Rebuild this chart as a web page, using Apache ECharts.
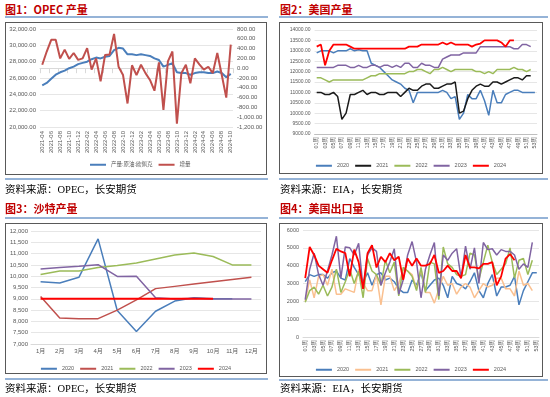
<!DOCTYPE html>
<html>
<head>
<meta charset="utf-8">
<script src="https://cdn.jsdelivr.net/npm/echarts/dist/echarts.min.js"></script>
<style>
body{margin:0;width:550px;height:397px;background:#fff;position:relative;overflow:hidden;font-family:"Noto Sans CJK SC",sans-serif;}
.title{position:absolute;font-size:11px;font-weight:bold;color:#c00000;line-height:12px;white-space:nowrap;}
.rule{position:absolute;height:2px;background:#95b3d7;}
.box{position:absolute;border:1px solid #595959;box-sizing:border-box;pointer-events:none;}
.chart{position:absolute;}
.src{position:absolute;font-size:10.5px;line-height:12px;color:#000;white-space:nowrap;font-family:"Liberation Serif","Noto Sans CJK SC",serif;}
</style>
</head>
<body>
<div class="title" style="left:5px;top:3px;">图1：OPEC 产量</div>
<div class="rule" style="left:5px;top:16px;width:263px;"></div>
<div class="chart" id="opec" style="left:5px;top:22px;width:262px;height:153px;"></div>
<div class="box" style="left:5px;top:22px;width:262px;height:153px;"></div>
<div class="rule" style="left:5px;top:178px;width:263px;"></div>
<div class="src" style="left:5px;top:184px;">资料来源：OPEC，长安期货</div>

<div class="title" style="left:280px;top:3px;">图2：美国产量</div>
<div class="rule" style="left:279px;top:16px;width:269px;"></div>
<div class="chart" id="usprod" style="left:279px;top:22px;width:264px;height:152px;"></div>
<div class="box" style="left:279px;top:22px;width:264px;height:152px;"></div>
<div class="rule" style="left:279px;top:178px;width:269px;"></div>
<div class="src" style="left:280px;top:184px;">资料来源：EIA，长安期货</div>

<div class="title" style="left:5px;top:202px;">图3：沙特产量</div>
<div class="rule" style="left:5px;top:217px;width:263px;"></div>
<div class="chart" id="saudi" style="left:5px;top:223px;width:262px;height:151px;"></div>
<div class="box" style="left:5px;top:223px;width:262px;height:151px;"></div>
<div class="rule" style="left:5px;top:378px;width:263px;"></div>
<div class="src" style="left:5px;top:383px;">资料来源：OPEC，长安期货</div>

<div class="title" style="left:280px;top:202px;">图4：美国出口量</div>
<div class="rule" style="left:279px;top:217px;width:269px;"></div>
<div class="chart" id="usexp" style="left:279px;top:223px;width:264px;height:154px;"></div>
<div class="box" style="left:279px;top:223px;width:264px;height:154px;"></div>
<div class="rule" style="left:279px;top:379px;width:269px;"></div>
<div class="src" style="left:280px;top:383px;">资料来源：EIA，长安期货</div>

<script>
"use strict";

// 图1 OPEC
var opecMonths = ['2021-04','2021-05','2021-06','2021-07','2021-08','2021-09','2021-10','2021-11','2021-12',
    '2022-01','2022-02','2022-03','2022-04','2022-05','2022-06','2022-07','2022-08','2022-09','2022-10','2022-11','2022-12',
    '2023-01','2023-02','2023-03','2023-04','2023-05','2023-06','2023-07','2023-08','2023-09','2023-10','2023-11','2023-12',
    '2024-01','2024-02','2024-03','2024-04','2024-05','2024-06','2024-07','2024-08','2024-09','2024-10'];
var opecOutput = [25100,25400,25900,26400,26700,26900,27200,27400,27700,27850,28000,28300,28500,28400,28600,28700,
    29400,29700,29600,28900,28900,28800,28900,28800,28700,28400,28200,27400,27600,27800,26700,26600,26600,26400,
    26600,26700,26700,26600,26600,26800,26600,26100,26500];
var opecChange = [70,340,580,580,200,380,190,310,170,200,410,-30,200,-270,270,280,700,30,-140,-720,60,-140,70,-100,
    -240,-460,120,-850,140,340,-1130,-100,70,-310,200,80,-30,30,-100,310,-140,-600,480];

// 图2 美国产量
var weeks = ['01周','02周','03周','04周','05周','06周','07周','08周','09周','10周','11周','12周','13周','14周','15周',
    '16周','17周','18周','19周','20周','21周','22周','23周','24周','25周','26周','27周','28周','29周','30周','31周',
    '32周','33周','34周','35周','36周','37周','38周','39周','40周','41周','42周','43周','44周','45周','46周','47周',
    '48周','49周','50周','51周','52周','53周'];
var prod2020 = [12900,13000,13000,13000,12900,13000,13000,13000,13100,13000,13050,13000,13000,12400,12300,12200,
    12000,11800,11600,11500,11400,11200,11100,10500,11000,11000,11000,11000,11000,11000,11100,11000,10700,10800,
    9700,10000,10900,10700,10700,11100,10600,9900,11100,10500,10500,10900,11000,11100,11100,11000,11000,11000,11000];
var prod2021 = [11000,11000,10900,10900,11000,10800,9700,10000,10900,10900,11000,11100,10900,11000,11000,10900,
    10900,11000,11000,11000,10800,11000,11200,11100,11100,11300,11400,11400,11200,11200,11300,11400,11400,11500,
    10000,10100,10700,11100,11300,11400,11300,11300,11500,11500,11400,11500,11600,11700,11700,11600,11800,11800];
var prod2022 = [11700,11700,11600,11500,11600,11600,11600,11600,11600,11600,11600,11600,11700,11800,11800,11900,
    11900,11900,11900,11900,11900,11900,12000,12000,12100,12100,12000,11900,12100,12100,12200,12100,12000,12100,
    12100,12100,12100,12100,12000,12000,11900,12000,11900,12100,12100,12100,12100,12200,12100,12100,12000,12100];
var prod2023 = [12200,12200,12200,12200,12200,12300,12300,12300,12200,12200,12300,12200,12200,12300,12300,12200,
    12300,12300,12200,12300,12200,12400,12400,12200,12200,12400,12300,12300,12200,12200,12600,12700,12800,12800,
    12800,12900,12900,12900,12900,13200,13200,13200,13200,13200,13200,13200,13200,13100,13100,13300,13300,13200];
var prod2024 = [13200,13300,12300,13000,13300,13300,13300,13300,13200,13100,13100,13100,13100,13100,13100,13100,
    13100,13100,13100,13100,13100,13100,13200,13200,13200,13300,13300,13300,13300,13300,13400,13300,13400,13300,
    13300,13300,13300,13200,13300,13350,13500,13500,13500,13500,13400,13200,13500,13500];

// 图3 沙特产量
var saudiMonths = ['1月','2月','3月','4月','5月','6月','7月','8月','9月','10月','11月','12月'];
var saudi2020 = [9750,9700,9950,11650,8480,7550,8450,8900,9050,9000,9000];
var saudi2021 = [9100,8150,8120,8120,8500,8950,9450,9550,9650,9750,9850,9950];
var saudi2022 = [10080,10230,10230,10380,10470,10580,10760,10940,11030,10870,10500,10500];
var saudi2023 = [10320,10380,10440,10510,9990,10000,9050,8990,9020,8990,8990,8990];
var saudi2024 = [9000,9000,9000,9000,9000,9000,9000,9000,9000,9000];

// 图4 美国出口量
var exp2020 = [3100,3500,3400,3500,3500,3300,3600,3700,3300,3200,4400,3900,3500,3100,3600,2900,3500,3600,3200,3300,
    3100,2700,2500,2500,3200,2900,3600,2600,2900,3200,3300,2900,2200,3400,3000,2900,2700,3100,3600,2600,
    2200,3000,3500,2300,2800,2800,2900,3400,1800,2600,3100,3600,3600];
var exp2021 = [2000,3200,2200,3400,3500,2900,3800,2400,2400,2700,2600,2500,3800,3000,2600,2600,3500,1800,3400,3400,
    2600,3000,3800,3700,3500,2700,3800,2500,2500,1900,2700,3400,2900,3000,2400,2800,3000,2800,2200,2600,
    3000,2800,2900,3300,3300,2700,2700,2300,3700,2900,3000,2600];
var exp2022 = [1950,2600,2800,2400,2900,2300,2800,3800,2500,3100,3800,3000,3700,2200,4400,3700,3500,2900,4300,3600,
    4200,2300,3900,3700,3400,2600,3900,2500,4200,4100,2100,5050,4100,3900,3500,3400,3500,4700,4600,3200,
    4200,5150,4200,3500,3800,4100,5000,3300,4300,4400,3500,4300];
var exp2023 = [2100,3800,4700,3500,2900,3700,4600,5650,3300,5050,5000,4600,5250,2700,4600,5000,4800,2900,3600,4200,
    4950,2400,3200,4600,5350,4200,2200,3800,4600,5300,2300,4600,4300,4700,4950,3300,5100,3800,5000,3000,
    5300,4900,4950,4600,4900,4800,4800,4600,3800,4100,3900,5300];
var exp2024 = [3300,5050,4600,4000,3800,3600,4300,4950,4800,4700,3400,4900,4200,2700,4700,5150,3900,4500,4200,4700,
    4300,4500,3200,4400,4000,4400,4000,4000,4100,4600,3600,3700,4000,3700,3700,3300,4600,3900,3900,3850,
    4100,4100,4200,2900,3400,4400,4650,4300];

var C_BLUE = '#4a7ebb', C_RED = '#ff0000', C_DKRED = '#c0504d', C_GREEN = '#9bbb59',
    C_PURPLE = '#8064a2', C_BLACK = '#1a1a1a', C_ORANGE = '#fac090';
var LBL = '#595959';
var FONT = "'Liberation Sans','Noto Sans CJK SC',sans-serif";

function getChart(id){
    var dom = document.getElementById(id);
    return echarts.init(dom, null, {renderer: 'canvas'});
}

function fmt2(v){
    return v.toLocaleString('en-US', {minimumFractionDigits: 2, maximumFractionDigits: 2});
}

function line(name, data, color, width){
    return {
        name: name, type: 'line', data: data, symbol: 'none',
        lineStyle: {color: color, width: width}, itemStyle: {color: color}
    };
}

function legendOf(names, top, left, size){
    return {
        data: names, top: top, left: left, icon: 'rect',
        itemWidth: 16, itemHeight: 2, itemGap: 6,
        textStyle: {color: LBL, fontSize: size, fontFamily: FONT}
    };
}

var charts = [];

// ---- 图1
(function(){
    var chart = getChart('opec');
    chart.setOption({
        animation: false,
        grid: {left: 35, right: 34, top: 7, bottom: 48, outerBoundsMode: 'none'},
        legend: legendOf(['产量:原油:欧佩克', '增量'], 135, 80, 5.5),
        xAxis: {
            type: 'category', data: opecMonths, boundaryGap: true,
            axisLine: {lineStyle: {color: '#d9d9d9'}},
            axisTick: {show: true, interval: 1, lineStyle: {color: '#d9d9d9'}},
            axisLabel: {interval: 1, rotate: 90, fontSize: 6, color: LBL, margin: 4, fontFamily: FONT}
        },
        yAxis: [{
            type: 'value', min: 20000, max: 32000, interval: 2000,
            axisLabel: {formatter: fmt2, fontSize: 6, color: LBL, margin: 4, fontFamily: FONT},
            splitLine: {lineStyle: {color: '#e6e6e6'}}
        }, {
            type: 'value', min: -1200, max: 800, interval: 200,
            axisLabel: {formatter: fmt2, fontSize: 6, color: LBL, margin: 4, fontFamily: FONT},
            splitLine: {show: false}
        }],
        series: [
            line('产量:原油:欧佩克', opecOutput, C_BLUE, 2),
            Object.assign(line('增量', opecChange, C_DKRED, 2), {yAxisIndex: 1})
        ]
    });
    charts.push(chart);
})();

// ---- 图2
(function(){
    var chart = getChart('usprod');
    chart.setOption({
        animation: false,
        grid: {left: 35.6, right: 6, top: 8, bottom: 40, outerBoundsMode: 'none'},
        legend: legendOf(['2020','2021','2022','2023','2024'], 136, 'center', 5.5),
        xAxis: {
            type: 'category', data: weeks, boundaryGap: true,
            axisLine: {lineStyle: {color: '#bfbfbf'}},
            axisTick: {show: false},
            axisLabel: {interval: 1, rotate: 90, fontSize: 5.5, color: LBL, margin: 3, fontFamily: FONT}
        },
        yAxis: {
            type: 'value', min: 9000, max: 14000, interval: 500,
            axisLabel: {formatter: function(v){ return v.toFixed(2); }, fontSize: 5, color: LBL, margin: 4, fontFamily: FONT},
            splitLine: {lineStyle: {color: '#e6e6e6'}}
        },
        series: [
            line('2020', prod2020, C_BLUE, 1.5),
            line('2021', prod2021, C_BLACK, 1.5),
            line('2022', prod2022, C_GREEN, 1.5),
            line('2023', prod2023, C_PURPLE, 1.5),
            line('2024', prod2024, C_RED, 1.8)
        ]
    });
    charts.push(chart);
})();

// ---- 图3
(function(){
    var chart = getChart('saudi');
    chart.setOption({
        animation: false,
        grid: {left: 26, right: 6, top: 8, bottom: 30, outerBoundsMode: 'none'},
        legend: legendOf(['2020','2021','2022','2023','2024'], 138, 'center', 5.5),
        xAxis: {
            type: 'category', data: saudiMonths, boundaryGap: true,
            axisLine: {lineStyle: {color: '#d9d9d9'}},
            axisTick: {show: false},
            axisLabel: {fontSize: 6, color: LBL, margin: 4, fontFamily: FONT}
        },
        yAxis: {
            type: 'value', min: 7000, max: 12000, interval: 500,
            axisLabel: {formatter: function(v){ return v.toLocaleString('en-US'); }, fontSize: 6, color: LBL, margin: 3, fontFamily: FONT},
            splitLine: {lineStyle: {color: '#e6e6e6'}}
        },
        series: [
            line('2020', saudi2020, C_BLUE, 1.5),
            line('2021', saudi2021, C_DKRED, 1.5),
            line('2022', saudi2022, C_GREEN, 1.5),
            line('2023', saudi2023, C_PURPLE, 1.5),
            line('2024', saudi2024, C_RED, 2)
        ]
    });
    charts.push(chart);
})();

// ---- 图4
(function(){
    var chart = getChart('usexp');
    chart.setOption({
        animation: false,
        grid: {left: 24, right: 4, top: 7, bottom: 40, outerBoundsMode: 'none'},
        legend: legendOf(['2020','2021','2022','2023','2024'], 139, 'center', 5.5),
        xAxis: {
            type: 'category', data: weeks, boundaryGap: true,
            axisLine: {lineStyle: {color: '#d9d9d9'}},
            axisTick: {show: false},
            axisLabel: {interval: 1, rotate: 90, fontSize: 5.5, color: LBL, margin: 3, fontFamily: FONT}
        },
        yAxis: {
            type: 'value', min: 0, max: 6000, interval: 1000,
            axisLabel: {formatter: function(v){ return String(v); }, fontSize: 5.5, color: LBL, margin: 4, fontFamily: FONT},
            splitLine: {lineStyle: {color: '#e6e6e6'}}
        },
        series: [
            line('2020', exp2020, C_BLUE, 1.5),
            line('2021', exp2021, C_ORANGE, 1.5),
            line('2022', exp2022, C_GREEN, 1.5),
            line('2023', exp2023, C_PURPLE, 1.5),
            line('2024', exp2024, C_RED, 1.8)
        ]
    });
    charts.push(chart);
})();

window.addEventListener('resize', function(){
    charts.forEach(function(c){ c.resize(); });
});
</script>
</body>
</html>
